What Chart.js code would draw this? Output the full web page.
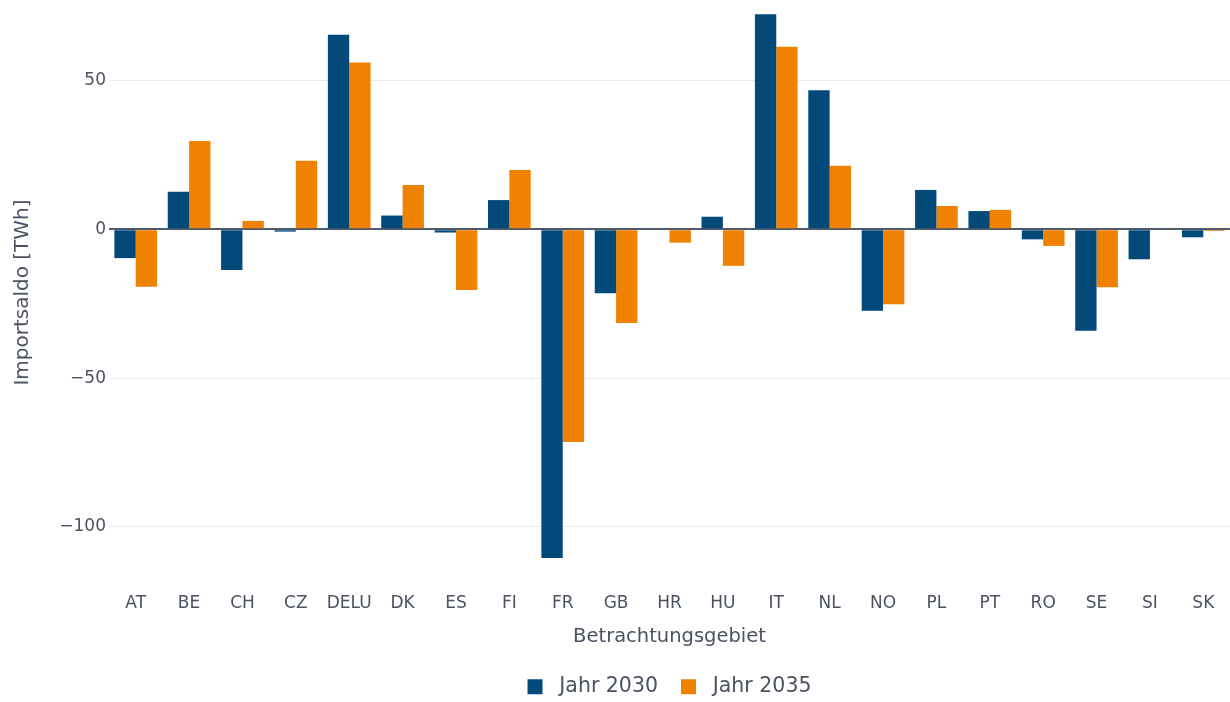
<!DOCTYPE html>
<html>
<head>
<meta charset="utf-8">
<script src="https://cdn.jsdelivr.net/npm/chart.js@4/dist/chart.umd.min.js"></script>
<style>
  html, body { margin: 0; padding: 0; background: #ffffff; }
  #wrap { width: 1230px; height: 702px; position: relative; }
</style>
</head>
<body>
<div id="wrap"><canvas id="importChart"></canvas></div>
<script>
// Data (TWh)
const regions = ['AT', 'BE', 'CH', 'CZ', 'DELU', 'DK', 'ES', 'FI', 'FR', 'GB', 'HR',
                 'HU', 'IT', 'NL', 'NO', 'PL', 'PT', 'RO', 'SE', 'SI', 'SK'];
const jahr2030 = [-9.7, 12.6, -13.7, -0.8, 65.3, 4.6, -1.1, 9.8, -110.4, -21.5, 0,
                  4.2, 72.2, 46.7, -27.4, 13.2, 6.1, -3.4, -34.1, -10.1, -2.7];
const jahr2035 = [-19.3, 29.6, 2.8, 23.0, 56.0, 14.9, -20.4, 19.9, -71.5, -31.5, -4.5,
                  -12.3, 61.3, 21.3, -25.2, 7.8, 6.5, -5.6, -19.5, 0, -0.6];
const yTicks = [-100, -50, 0, 50];
const seriesNames = ['Jahr 2030', 'Jahr 2035'];

const textColor = '#4b5261';
const fontFamily = '"DejaVu Sans", Verdana, sans-serif';

function initChart() {
    const canvas = document.getElementById('importChart');
    const ctx = canvas.getContext('2d');

    new Chart(ctx, {
        type: 'bar',
        data: {
            labels: regions,
            datasets: [{
                label: seriesNames[0],
                data: jahr2030,
                backgroundColor: '#034a7b',
                borderWidth: 0
            }, {
                label: seriesNames[1],
                data: jahr2035,
                backgroundColor: '#ef8200',
                borderWidth: 0
            }]
        },
        options: {
            responsive: true,
            maintainAspectRatio: false,
            animation: false,
            layout: { padding: { left: 0, right: 0, top: 0, bottom: -5 } },
            datasets: {
                bar: { categoryPercentage: 0.8, barPercentage: 1.0 }
            },
            plugins: {
                legend: {
                    position: 'bottom',
                    fullSize: false,
                    labels: {
                        color: textColor,
                        font: { family: fontFamily, size: 20.5 },
                        boxWidth: 15,
                        boxHeight: 15,
                        padding: 23,
                        generateLabels: function(chart) {
                            // small extra gap between the square and its text
                            const items = Chart.defaults.plugins.legend.labels.generateLabels(chart);
                            items.forEach(function(it) { it.text = ' ' + it.text; });
                            return items;
                        }
                    }
                },
                tooltip: { enabled: false }
            },
            scales: {
                x: {
                    grid: { display: false, drawTicks: false },
                    border: { display: false },
                    ticks: {
                        color: textColor,
                        font: { family: fontFamily, size: 17 },
                        padding: 8,
                        maxRotation: 0,
                        autoSkip: false
                    },
                    title: {
                        display: true,
                        text: 'Betrachtungsgebiet',
                        color: textColor,
                        font: { family: fontFamily, size: 19.5 },
                        padding: { top: 9, bottom: 5 }
                    },
                    afterFit: function(scale) { scale.height = 68.5; }
                },
                y: {
                    min: -119.5,
                    max: 77,
                    grid: {
                        drawTicks: false,
                        color: function(c) { return c.tick && c.tick.value === 0 ? '#4e5a6b' : '#ebebeb'; },
                        lineWidth: function(c) { return c.tick && c.tick.value === 0 ? 2 : 1; }
                    },
                    border: { display: false },
                    afterBuildTicks: function(scale) {
                        scale.ticks = yTicks.map(function(v) { return { value: v }; });
                    },
                    ticks: {
                        color: textColor,
                        font: { family: fontFamily, size: 17 },
                        padding: 3,
                        callback: function(value) {
                            return value < 0 ? '\u2212' + Math.abs(value) : String(value);
                        }
                    },
                    title: {
                        display: true,
                        text: 'Importsaldo [TWh]',
                        color: textColor,
                        font: { family: fontFamily, size: 20 },
                        padding: { top: 10.5, bottom: 4 }
                    },
                    afterFit: function(scale) {
                        scale.width = 109;
                        scale.paddingTop = 0;
                        scale.paddingBottom = 0;
                    }
                }
            }
        }
    });
}

window.addEventListener('load', function() {
    initChart();
});
</script>
</body>
</html>
